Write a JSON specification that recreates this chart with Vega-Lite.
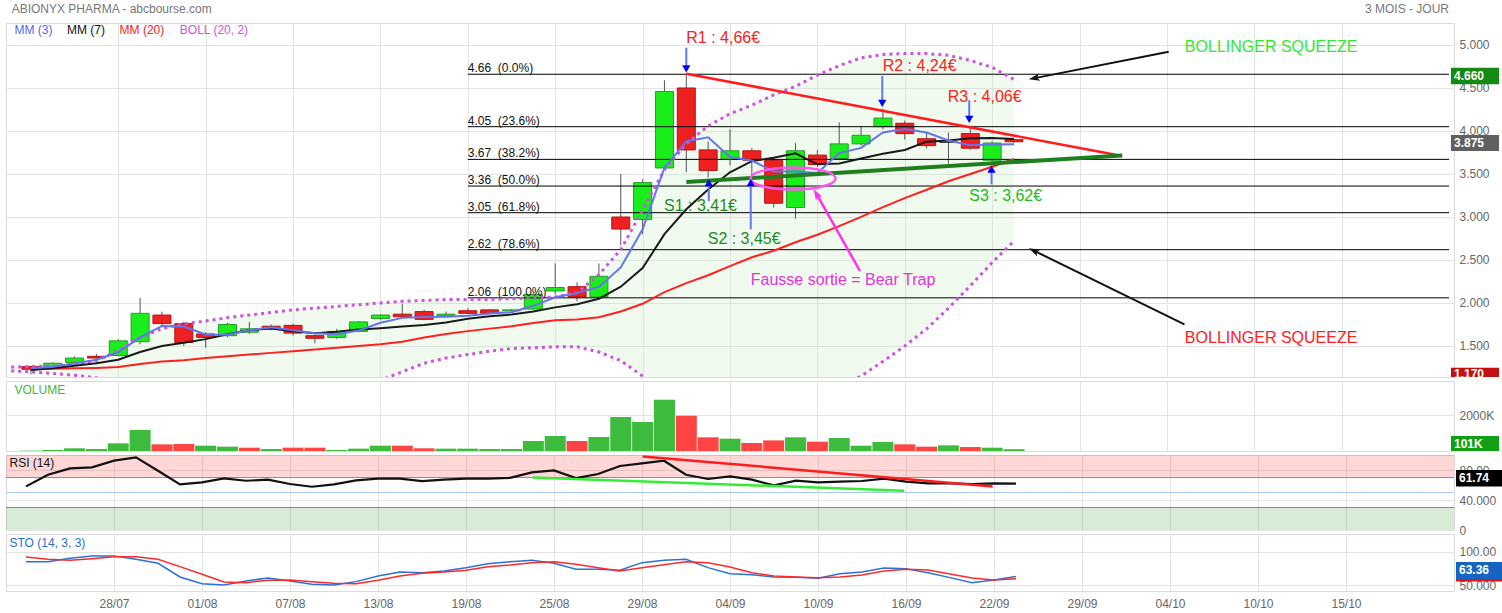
{
"$schema":"https://vega.github.io/schema/vega-lite/v6.json",
"padding":{"left":5,"top":2,"right":0,"bottom":0},
"background":"#ffffff",
"spacing":4,
"bounds":"flush",
"config":{"font":"Liberation Sans","view":{"stroke":"#dadada"},"axis":{"gridColor":"#e3e3e3","labelColor":"#666666","labelFontSize":12,"labelFont":"Liberation Sans","domain":false,"ticks":false,"tickSize":0}},
"datasets":{
"candles":[
{"i":0,"o":1.26,"h":1.27,"l":1.17,"c":1.23,"d":"down","vol":20000,"vd":"up","mm3":1.24,"mm7":1.22,"mm20":1.23,"rsi":58.2,"k":85.5,"dk":92.5},
{"i":1,"o":1.26,"h":1.31,"l":1.24,"c":1.30,"d":"up","vol":55000,"vd":"up","mm3":1.26,"mm7":1.24,"mm20":1.235,"rsi":73.7,"k":85.5,"dk":89},
{"i":2,"o":1.31,"h":1.38,"l":1.29,"c":1.36,"d":"up","vol":150000,"vd":"up","mm3":1.297,"mm7":1.27,"mm20":1.24,"rsi":82.2,"k":90.5,"dk":87.5},
{"i":3,"o":1.38,"h":1.41,"l":1.35,"c":1.36,"d":"down","vol":110000,"vd":"up","mm3":1.34,"mm7":1.30,"mm20":1.245,"rsi":83.5,"k":94,"dk":90},
{"i":4,"o":1.39,"h":1.58,"l":1.38,"c":1.56,"d":"up","vol":425000,"vd":"up","mm3":1.427,"mm7":1.34,"mm20":1.255,"rsi":92.4,"k":94,"dk":93},
{"i":5,"o":1.55,"h":2.06,"l":1.52,"c":1.88,"d":"up","vol":1170000,"vd":"up","mm3":1.60,"mm7":1.43,"mm20":1.29,"rsi":96.8,"k":89,"dk":93},
{"i":6,"o":1.86,"h":1.90,"l":1.74,"c":1.76,"d":"down","vol":370000,"vd":"down","mm3":1.733,"mm7":1.50,"mm20":1.32,"rsi":79,"k":83,"dk":89},
{"i":7,"o":1.76,"h":1.78,"l":1.50,"c":1.54,"d":"down","vol":390000,"vd":"down","mm3":1.727,"mm7":1.537,"mm20":1.335,"rsi":60.8,"k":62.5,"dk":78},
{"i":8,"o":1.64,"h":1.66,"l":1.48,"c":1.60,"d":"down","vol":295000,"vd":"up","mm3":1.633,"mm7":1.58,"mm20":1.36,"rsi":63.5,"k":52.5,"dk":66.5},
{"i":9,"o":1.62,"h":1.77,"l":1.60,"c":1.75,"d":"up","vol":240000,"vd":"up","mm3":1.63,"mm7":1.636,"mm20":1.38,"rsi":68.8,"k":50.5,"dk":55},
{"i":10,"o":1.66,"h":1.78,"l":1.64,"c":1.70,"d":"up","vol":185000,"vd":"down","mm3":1.683,"mm7":1.684,"mm20":1.40,"rsi":65.7,"k":56.5,"dk":54},
{"i":11,"o":1.73,"h":1.75,"l":1.69,"c":1.70,"d":"down","vol":110000,"vd":"up","mm3":1.717,"mm7":1.704,"mm20":1.42,"rsi":67.1,"k":61,"dk":57.5},
{"i":12,"o":1.74,"h":1.76,"l":1.62,"c":1.65,"d":"down","vol":185000,"vd":"down","mm3":1.683,"mm7":1.671,"mm20":1.44,"rsi":61.3,"k":56.5,"dk":58},
{"i":13,"o":1.62,"h":1.63,"l":1.53,"c":1.59,"d":"down","vol":185000,"vd":"down","mm3":1.647,"mm7":1.647,"mm20":1.46,"rsi":57.7,"k":51.5,"dk":55.5},
{"i":14,"o":1.60,"h":1.70,"l":1.58,"c":1.67,"d":"up","vol":55000,"vd":"up","mm3":1.637,"mm7":1.666,"mm20":1.48,"rsi":60.8,"k":50.5,"dk":53},
{"i":15,"o":1.67,"h":1.79,"l":1.66,"c":1.78,"d":"up","vol":130000,"vd":"up","mm3":1.68,"mm7":1.691,"mm20":1.50,"rsi":66.1,"k":55.5,"dk":52.5},
{"i":16,"o":1.82,"h":1.87,"l":1.80,"c":1.86,"d":"up","vol":295000,"vd":"up","mm3":1.77,"mm7":1.707,"mm20":1.52,"rsi":68.4,"k":64,"dk":57.5},
{"i":17,"o":1.87,"h":1.99,"l":1.83,"c":1.84,"d":"down","vol":295000,"vd":"down","mm3":1.827,"mm7":1.727,"mm20":1.55,"rsi":68.4,"k":70,"dk":64},
{"i":18,"o":1.90,"h":1.92,"l":1.80,"c":1.81,"d":"down","vol":150000,"vd":"down","mm3":1.837,"mm7":1.743,"mm20":1.60,"rsi":65.3,"k":69,"dk":68},
{"i":19,"o":1.85,"h":1.90,"l":1.84,"c":1.87,"d":"up","vol":130000,"vd":"up","mm3":1.84,"mm7":1.774,"mm20":1.64,"rsi":67.1,"k":71.5,"dk":70},
{"i":20,"o":1.91,"h":1.94,"l":1.87,"c":1.88,"d":"down","vol":130000,"vd":"up","mm3":1.853,"mm7":1.816,"mm20":1.673,"rsi":68.4,"k":76.5,"dk":72.5},
{"i":21,"o":1.92,"h":1.93,"l":1.87,"c":1.88,"d":"down","vol":110000,"vd":"up","mm3":1.877,"mm7":1.846,"mm20":1.702,"rsi":68.5,"k":82.5,"dk":78},
{"i":22,"o":1.91,"h":1.93,"l":1.90,"c":1.92,"d":"up","vol":110000,"vd":"up","mm3":1.893,"mm7":1.866,"mm20":1.73,"rsi":69.5,"k":85.5,"dk":80.5},
{"i":23,"o":1.93,"h":2.12,"l":1.92,"c":2.10,"d":"up","vol":555000,"vd":"up","mm3":1.967,"mm7":1.90,"mm20":1.767,"rsi":76.8,"k":87.5,"dk":84},
{"i":24,"o":2.14,"h":2.46,"l":2.10,"c":2.18,"d":"up","vol":835000,"vd":"up","mm3":2.067,"mm7":1.949,"mm20":1.798,"rsi":79.5,"k":83,"dk":85.5},
{"i":25,"o":2.19,"h":2.24,"l":2.02,"c":2.07,"d":"down","vol":555000,"vd":"down","mm3":2.117,"mm7":1.986,"mm20":1.808,"rsi":69.3,"k":74,"dk":81.5},
{"i":26,"o":2.07,"h":2.46,"l":2.05,"c":2.31,"d":"up","vol":780000,"vd":"up","mm3":2.187,"mm7":2.049,"mm20":1.835,"rsi":74.7,"k":74,"dk":76.5},
{"i":27,"o":3.00,"h":3.50,"l":2.67,"c":2.86,"d":"down","vol":1890000,"vd":"up","mm3":2.413,"mm7":2.189,"mm20":1.901,"rsi":85.3,"k":72.5,"dk":71.5},
{"i":28,"o":2.97,"h":3.44,"l":2.80,"c":3.40,"d":"up","vol":1610000,"vd":"up","mm3":2.857,"mm7":2.406,"mm20":1.991,"rsi":88.8,"k":84,"dk":76.5},
{"i":29,"o":3.57,"h":4.59,"l":3.55,"c":4.46,"d":"up","vol":2850000,"vd":"up","mm3":3.573,"mm7":2.80,"mm20":2.127,"rsi":92.4,"k":87.5,"dk":81},
{"i":30,"o":4.50,"h":4.66,"l":3.52,"c":3.78,"d":"down","vol":1960000,"vd":"down","mm3":3.88,"mm7":3.09,"mm20":2.231,"rsi":73.7,"k":89,"dk":85.5},
{"i":31,"o":3.78,"h":3.88,"l":3.46,"c":3.54,"d":"down","vol":760000,"vd":"down","mm3":3.927,"mm7":3.32,"mm20":2.323,"rsi":68,"k":76.5,"dk":84},
{"i":32,"o":3.67,"h":4.02,"l":3.60,"c":3.77,"d":"up","vol":685000,"vd":"up","mm3":3.697,"mm7":3.52,"mm20":2.429,"rsi":71.5,"k":67.5,"dk":77.5},
{"i":33,"o":3.77,"h":3.80,"l":3.45,"c":3.66,"d":"down","vol":445000,"vd":"down","mm3":3.657,"mm7":3.65,"mm20":2.532,"rsi":67.1,"k":66,"dk":69},
{"i":34,"o":3.66,"h":3.70,"l":3.11,"c":3.16,"d":"down","vol":590000,"vd":"down","mm3":3.53,"mm7":3.69,"mm20":2.607,"rsi":59.5,"k":62.5,"dk":64},
{"i":35,"o":3.11,"h":3.86,"l":2.98,"c":3.77,"d":"up","vol":760000,"vd":"up","mm3":3.53,"mm7":3.74,"mm20":2.706,"rsi":65.7,"k":62,"dk":62.5},
{"i":36,"o":3.72,"h":3.78,"l":3.58,"c":3.61,"d":"down","vol":520000,"vd":"down","mm3":3.513,"mm7":3.613,"mm20":2.794,"rsi":63.5,"k":60.5,"dk":61.5},
{"i":37,"o":3.68,"h":4.10,"l":3.66,"c":3.85,"d":"up","vol":720000,"vd":"up","mm3":3.743,"mm7":3.623,"mm20":2.894,"rsi":64.4,"k":67.5,"dk":62.5},
{"i":38,"o":3.85,"h":4.06,"l":3.83,"c":3.95,"d":"up","vol":295000,"vd":"up","mm3":3.803,"mm7":3.681,"mm20":3.001,"rsi":65.3,"k":70,"dk":65.5},
{"i":39,"o":4.05,"h":4.26,"l":4.02,"c":4.15,"d":"up","vol":500000,"vd":"up","mm3":3.983,"mm7":3.736,"mm20":3.115,"rsi":68.4,"k":76,"dk":71.5},
{"i":40,"o":4.09,"h":4.12,"l":3.90,"c":3.97,"d":"down","vol":370000,"vd":"down","mm3":4.023,"mm7":3.78,"mm20":3.22,"rsi":64.4,"k":75,"dk":74},
{"i":41,"o":3.91,"h":3.98,"l":3.80,"c":3.83,"d":"down","vol":240000,"vd":"down","mm3":3.983,"mm7":3.876,"mm20":3.317,"rsi":62.1,"k":69,"dk":73},
{"i":42,"o":3.87,"h":3.98,"l":3.62,"c":3.87,"d":"flat","vol":315000,"vd":"up","mm3":3.89,"mm7":3.89,"mm20":3.415,"rsi":62.1,"k":61.5,"dk":67},
{"i":43,"o":3.97,"h":4.06,"l":3.78,"c":3.80,"d":"down","vol":220000,"vd":"down","mm3":3.833,"mm7":3.917,"mm20":3.50,"rsi":61.3,"k":54,"dk":61},
{"i":44,"o":3.66,"h":3.88,"l":3.61,"c":3.86,"d":"up","vol":185000,"vd":"up","mm3":3.843,"mm7":3.919,"mm20":3.584,"rsi":62.1,"k":58,"dk":58},
{"i":45,"o":3.90,"h":3.91,"l":3.86,"c":3.875,"d":"down","vol":101000,"vd":"up","mm3":3.845,"mm7":3.908,"mm20":3.674,"rsi":61.74,"k":63.36,"dk":60}
],
"boll":[
{"i":-0.9,"up":1.255,"lo":1.21},{"i":0,"up":1.26,"lo":1.20},{"i":1,"up":1.27,"lo":1.18},{"i":2,"up":1.29,"lo":1.16},{"i":3,"up":1.33,"lo":1.13},{"i":4,"up":1.45,"lo":1.08},{"i":5,"up":1.60,"lo":0.98},{"i":6,"up":1.70,"lo":0.93},{"i":7,"up":1.76,"lo":0.91},{"i":8,"up":1.79,"lo":0.92},{"i":9,"up":1.83,"lo":0.93},{"i":10,"up":1.86,"lo":0.95},{"i":11,"up":1.89,"lo":0.96},{"i":12,"up":1.92,"lo":0.98},{"i":13,"up":1.94,"lo":1.00},{"i":14,"up":1.96,"lo":1.02},{"i":15,"up":1.98,"lo":1.05},{"i":16,"up":2.00,"lo":1.10},{"i":17,"up":2.02,"lo":1.20},{"i":18,"up":2.03,"lo":1.30},{"i":19,"up":2.04,"lo":1.36},{"i":20,"up":2.04,"lo":1.40},{"i":21,"up":2.04,"lo":1.44},{"i":22,"up":2.05,"lo":1.47},{"i":23,"up":2.06,"lo":1.48},{"i":24,"up":2.07,"lo":1.49},{"i":25,"up":2.12,"lo":1.49},{"i":26,"up":2.33,"lo":1.43},{"i":27,"up":2.62,"lo":1.33},{"i":28,"up":3.08,"lo":1.15},{"i":29,"up":3.55,"lo":0.98},{"i":30,"up":3.85,"lo":0.85},{"i":31,"up":4.06,"lo":0.80},{"i":32,"up":4.20,"lo":0.78},{"i":33,"up":4.30,"lo":0.76},{"i":34,"up":4.42,"lo":0.78},{"i":35,"up":4.52,"lo":0.85},{"i":36,"up":4.65,"lo":0.95},{"i":37,"up":4.76,"lo":1.03},{"i":38,"up":4.85,"lo":1.15},{"i":39,"up":4.89,"lo":1.32},{"i":40,"up":4.90,"lo":1.50},{"i":41,"up":4.90,"lo":1.70},{"i":42,"up":4.88,"lo":1.94},{"i":43,"up":4.82,"lo":2.20},{"i":44,"up":4.74,"lo":2.47},{"i":45,"up":4.60,"lo":2.72}
],
"fib":[
{"i":20,"i2":64.91,"p":4.66,"t":"4.66\u00a0\u00a0(0.0%)"},
{"i":20,"i2":64.91,"p":4.05,"t":"4.05\u00a0\u00a0(23.6%)"},
{"i":20,"i2":64.91,"p":3.67,"t":"3.67\u00a0\u00a0(38.2%)"},
{"i":20,"i2":64.91,"p":3.36,"t":"3.36\u00a0\u00a0(50.0%)"},
{"i":20,"i2":64.91,"p":3.05,"t":"3.05\u00a0\u00a0(61.8%)"},
{"i":20,"i2":64.91,"p":2.62,"t":"2.62\u00a0\u00a0(78.6%)"},
{"i":20,"i2":64.91,"p":2.06,"t":"2.06\u00a0\u00a0(100.0%)"}
],
"trend":[
{"i":30.0,"i2":49.95,"p":4.666,"p2":3.709,"k":"r"},
{"i":30.0,"i2":49.95,"p":3.407,"p2":3.716,"k":"g"}
],
"ell":[{"i":34.886,"p":3.448}],
"barrow":[
{"i":30.0,"p1":4.969,"p2":4.722,"h":"dn"},
{"i":38.97,"p1":4.6395,"p2":4.320,"h":"dn"},
{"i":42.95,"p1":4.357,"p2":4.134,"h":"dn"},
{"i":31.03,"p1":3.186,"p2":3.401,"h":"up"},
{"i":32.95,"p1":2.857,"p2":3.401,"h":"up"},
{"i":43.97,"p1":3.380,"p2":3.557,"h":"up"}
],
"karrow":[
{"i":52.08,"i2":45.95,"p":4.922,"p2":4.615,"k":"b"},
{"i":52.80,"i2":45.93,"p":1.752,"p2":2.606,"k":"b"},
{"i":37.95,"i2":35.97,"p":2.372,"p2":3.262,"k":"m"}
],
"heads":[
{"i":45.95,"p":4.615,"k":"b1"},
{"i":45.93,"p":2.606,"k":"b2"},
{"i":35.97,"p":3.262,"k":"m"}
],
"ann":[
{"i":30.0,"p":5.085,"t":"R1 : 4,66€","k":"r","g":"a"},
{"i":38.99,"p":4.756,"t":"R2 : 4,24€","k":"r","g":"a"},
{"i":41.97,"p":4.395,"t":"R3 : 4,06€","k":"r","g":"a"},
{"i":28.98,"p":3.128,"t":"S1 : 3,41€","k":"g","g":"a"},
{"i":30.98,"p":2.744,"t":"S2 : 3,45€","k":"g","g":"a"},
{"i":42.95,"p":3.244,"t":"S3 : 3,62€","k":"g2","g":"a"},
{"i":32.95,"p":2.267,"t":"Fausse sortie = Bear Trap","k":"m","g":"a"},
{"i":52.82,"p":4.977,"t":"BOLLINGER SQUEEZE","k":"bg","g":"a"},
{"i":52.82,"p":1.593,"t":"BOLLINGER SQUEEZE","k":"br","g":"a"}
],
"leg":[
{"i":-0.75,"p":5.174,"t":"MM (3)","k":"a"},
{"i":1.65,"p":5.174,"t":"MM (7)","k":"b"},
{"i":4.06,"p":5.174,"t":"MM (20)","k":"c"},
{"i":6.82,"p":5.174,"t":"BOLL (20, 2)","k":"d"}
],
"ttl":[
{"i":-0.88,"p":5.415,"t":"ABIONYX PHARMA - abcbourse.com","a":"l"},
{"i":64.91,"p":5.415,"t":"3 MOIS - JOUR","a":"r"}
],
"ptag":[
{"i":65.0,"i2":67.2,"p":4.736,"p2":4.543,"pt":4.64,"k":"g","t":"4.660"},
{"i":65.0,"i2":67.2,"p":3.953,"p2":3.767,"pt":3.86,"k":"n","t":"3.875"},
{"i":65.0,"i2":67.2,"p":1.248,"p2":1.1395,"pt":1.17,"k":"r","t":"1.170"}
],
"vlab":[{"i":-0.75,"v":3390000,"t":"VOLUME"}],
"vtag":[{"i":65.0,"i2":67.2,"v":833571,"v2":0,"vt":389000,"t":"101K"}],
"rband":[
{"i":-0.909,"i2":64.91,"y":70,"y2":100,"k":"hi"},
{"i":-0.909,"i2":64.91,"y":0,"y2":30,"k":"lo"}
],
"rref":[
{"i":-0.909,"i2":64.91,"y":70,"k":"r"},
{"i":-0.909,"i2":64.91,"y":50,"k":"b"},
{"i":-0.909,"i2":64.91,"y":30,"k":"g"}
],
"rtrend":[
{"i":28.03,"i2":43.94,"y":98.1,"y2":58.1,"k":"r"},
{"i":23.03,"i2":39.92,"y":70.1,"y2":52.4,"k":"g"}
],
"rlab":[{"i":-0.75,"y":88.8,"t":"RSI (14)"}],
"rtag":[{"i":65.0,"i2":67.2,"y":80,"y2":58.1,"yt":69,"t":"61.74"}],
"slab":[{"i":-0.75,"y":113,"t":"STO (14, 3, 3)"}],
"stag":[
{"i":65.0,"i2":67.2,"y":85,"y2":59.5,"yt":72.25,"t":"63.36","k":"b"},
{"i":65.0,"i2":67.2,"y":59.5,"y2":55.7,"yt":57.6,"t":"","k":"r"}
]
},
"vconcat":[
{
"width":1448,"height":354,
"encoding":{"x":{"field":"i","type":"quantitative","scale":{"domain":[-0.909,64.91],"nice":false,"zero":false},"axis":{"values":[4,8,12,16,20,24,28,32,36,40,44,48,52,56,60],"labels":false,"grid":true,"title":null}}},
"resolve":{"scale":{"color":"independent","fill":"independent","stroke":"independent","shape":"independent"}},
"layer":[
{"data":{"name":"boll"},"mark":{"type":"area","color":"#bfeab5","opacity":0.22,"clip":true},
 "encoding":{"y":{"field":"up","type":"quantitative","scale":{"domain":[1.1395,5.2558],"nice":false,"zero":false},"axis":{"orient":"right","values":[1.5,2,2.5,3,3.5,4,4.5,5],"format":".3f","grid":true,"title":null,"labelPadding":5}},"y2":{"field":"lo"}}},
{"data":{"name":"candles"},"mark":{"type":"rule","color":"#555555","strokeWidth":1,"clip":true},
 "encoding":{"y":{"field":"l","type":"quantitative","scale":{"domain":[1.1395,5.2558],"nice":false,"zero":false},"axis":{"orient":"right","values":[1.5,2,2.5,3,3.5,4,4.5,5],"format":".3f","grid":true,"title":null,"labelPadding":5}},"y2":{"field":"h"}}},
{"data":{"name":"candles"},"mark":{"type":"bar","width":18,"strokeWidth":1,"clip":true},
 "encoding":{"y":{"field":"o","type":"quantitative","scale":{"domain":[1.1395,5.2558],"nice":false,"zero":false},"axis":{"orient":"right","values":[1.5,2,2.5,3,3.5,4,4.5,5],"format":".3f","grid":true,"title":null,"labelPadding":5}},"y2":{"field":"c"},
  "fill":{"field":"d","type":"nominal","scale":{"domain":["up","down","flat"],"range":["#1aee1a","#ee2020","#333333"]},"legend":null},
  "stroke":{"field":"d","type":"nominal","scale":{"domain":["up","down","flat"],"range":["#2a9a2a","#b01515","#333333"]},"legend":null}}},
{"data":{"name":"fib"},"mark":{"type":"rule","color":"#000000","strokeWidth":1},
 "encoding":{"x2":{"field":"i2"},"y":{"field":"p","type":"quantitative","scale":{"domain":[1.1395,5.2558],"nice":false,"zero":false},"axis":{"orient":"right","values":[1.5,2,2.5,3,3.5,4,4.5,5],"format":".3f","grid":true,"title":null,"labelPadding":5}}}},
{"data":{"name":"fib"},"mark":{"type":"text","align":"left","baseline":"alphabetic","dy":-2,"fontSize":12,"color":"#111111"},
 "encoding":{"y":{"field":"p","type":"quantitative","scale":{"domain":[1.1395,5.2558],"nice":false,"zero":false},"axis":{"orient":"right","values":[1.5,2,2.5,3,3.5,4,4.5,5],"format":".3f","grid":true,"title":null,"labelPadding":5}},"text":{"field":"t"}}},
{"data":{"name":"boll"},"mark":{"type":"line","color":"#cc55dd","strokeWidth":3,"strokeDash":[3,4],"clip":true},
 "encoding":{"y":{"field":"up","type":"quantitative","scale":{"domain":[1.1395,5.2558],"nice":false,"zero":false},"axis":{"orient":"right","values":[1.5,2,2.5,3,3.5,4,4.5,5],"format":".3f","grid":true,"title":null,"labelPadding":5}}}},
{"data":{"name":"boll"},"mark":{"type":"line","color":"#cc55dd","strokeWidth":3,"strokeDash":[3,4],"clip":true},
 "encoding":{"y":{"field":"lo","type":"quantitative","scale":{"domain":[1.1395,5.2558],"nice":false,"zero":false},"axis":{"orient":"right","values":[1.5,2,2.5,3,3.5,4,4.5,5],"format":".3f","grid":true,"title":null,"labelPadding":5}}}},
{"data":{"name":"candles"},"mark":{"type":"line","color":"#ff2020","strokeWidth":2,"clip":true},
 "encoding":{"y":{"field":"mm20","type":"quantitative","scale":{"domain":[1.1395,5.2558],"nice":false,"zero":false},"axis":{"orient":"right","values":[1.5,2,2.5,3,3.5,4,4.5,5],"format":".3f","grid":true,"title":null,"labelPadding":5}}}},
{"data":{"name":"candles"},"mark":{"type":"line","color":"#1a1a1a","strokeWidth":2,"clip":true},
 "encoding":{"y":{"field":"mm7","type":"quantitative","scale":{"domain":[1.1395,5.2558],"nice":false,"zero":false},"axis":{"orient":"right","values":[1.5,2,2.5,3,3.5,4,4.5,5],"format":".3f","grid":true,"title":null,"labelPadding":5}}}},
{"data":{"name":"candles"},"mark":{"type":"line","color":"#6474f0","strokeWidth":2,"clip":true},
 "encoding":{"y":{"field":"mm3","type":"quantitative","scale":{"domain":[1.1395,5.2558],"nice":false,"zero":false},"axis":{"orient":"right","values":[1.5,2,2.5,3,3.5,4,4.5,5],"format":".3f","grid":true,"title":null,"labelPadding":5}}}},
{"data":{"name":"trend"},"transform":[{"filter":"datum.k=='r'"}],"mark":{"type":"rule","color":"#ff1c1c","strokeWidth":2.5},
 "encoding":{"x2":{"field":"i2"},"y":{"field":"p","type":"quantitative","scale":{"domain":[1.1395,5.2558],"nice":false,"zero":false},"axis":{"orient":"right","values":[1.5,2,2.5,3,3.5,4,4.5,5],"format":".3f","grid":true,"title":null,"labelPadding":5}},"y2":{"field":"p2"}}},
{"data":{"name":"trend"},"transform":[{"filter":"datum.k=='g'"}],"mark":{"type":"rule","color":"#1f7f1f","strokeWidth":4},
 "encoding":{"x2":{"field":"i2"},"y":{"field":"p","type":"quantitative","scale":{"domain":[1.1395,5.2558],"nice":false,"zero":false},"axis":{"orient":"right","values":[1.5,2,2.5,3,3.5,4,4.5,5],"format":".3f","grid":true,"title":null,"labelPadding":5}},"y2":{"field":"p2"}}},
{"data":{"name":"ell"},"mark":{"type":"point","shape":"M-1,0C-1,-0.1436,-0.5523,-0.26,0,-0.26C0.5523,-0.26,1,-0.1436,1,0C1,0.1436,0.5523,0.26,0,0.26C-0.5523,0.26,-1,0.1436,-1,0Z","size":7225,"filled":false,"color":"#ff55ee","strokeWidth":2.5,"opacity":1},
 "encoding":{"y":{"field":"p","type":"quantitative","scale":{"domain":[1.1395,5.2558],"nice":false,"zero":false},"axis":{"orient":"right","values":[1.5,2,2.5,3,3.5,4,4.5,5],"format":".3f","grid":true,"title":null,"labelPadding":5}}}},
{"data":{"name":"barrow"},"mark":{"type":"rule","color":"#6677ee","strokeWidth":2},
 "encoding":{"y":{"field":"p1","type":"quantitative","scale":{"domain":[1.1395,5.2558],"nice":false,"zero":false},"axis":{"orient":"right","values":[1.5,2,2.5,3,3.5,4,4.5,5],"format":".3f","grid":true,"title":null,"labelPadding":5}},"y2":{"field":"p2"}}},
{"data":{"name":"barrow"},"mark":{"type":"point","filled":true,"color":"#0000ff","size":70,"opacity":1},
 "encoding":{"y":{"field":"p2","type":"quantitative","scale":{"domain":[1.1395,5.2558],"nice":false,"zero":false},"axis":{"orient":"right","values":[1.5,2,2.5,3,3.5,4,4.5,5],"format":".3f","grid":true,"title":null,"labelPadding":5}},
  "shape":{"field":"h","type":"nominal","scale":{"domain":["dn","up"],"range":["triangle-down","triangle-up"]},"legend":null}}},
{"data":{"name":"karrow"},"transform":[{"filter":"datum.k=='b'"}],"mark":{"type":"rule","color":"#111111","strokeWidth":2},
 "encoding":{"x2":{"field":"i2"},"y":{"field":"p","type":"quantitative","scale":{"domain":[1.1395,5.2558],"nice":false,"zero":false},"axis":{"orient":"right","values":[1.5,2,2.5,3,3.5,4,4.5,5],"format":".3f","grid":true,"title":null,"labelPadding":5}},"y2":{"field":"p2"}}},
{"data":{"name":"karrow"},"transform":[{"filter":"datum.k=='m'"}],"mark":{"type":"rule","color":"#ff33ee","strokeWidth":2.5},
 "encoding":{"x2":{"field":"i2"},"y":{"field":"p","type":"quantitative","scale":{"domain":[1.1395,5.2558],"nice":false,"zero":false},"axis":{"orient":"right","values":[1.5,2,2.5,3,3.5,4,4.5,5],"format":".3f","grid":true,"title":null,"labelPadding":5}},"y2":{"field":"p2"}}},
{"data":{"name":"heads"},"transform":[{"filter":"datum.k=='b1'"}],"mark":{"type":"point","shape":"M0,-1L0.6,0.8L0,0.4L-0.6,0.8Z","size":150,"filled":true,"color":"#111111","opacity":1,"angle":259},
 "encoding":{"y":{"field":"p","type":"quantitative","scale":{"domain":[1.1395,5.2558],"nice":false,"zero":false},"axis":{"orient":"right","values":[1.5,2,2.5,3,3.5,4,4.5,5],"format":".3f","grid":true,"title":null,"labelPadding":5}}}},
{"data":{"name":"heads"},"transform":[{"filter":"datum.k=='b2'"}],"mark":{"type":"point","shape":"M0,-1L0.6,0.8L0,0.4L-0.6,0.8Z","size":150,"filled":true,"color":"#111111","opacity":1,"angle":296},
 "encoding":{"y":{"field":"p","type":"quantitative","scale":{"domain":[1.1395,5.2558],"nice":false,"zero":false},"axis":{"orient":"right","values":[1.5,2,2.5,3,3.5,4,4.5,5],"format":".3f","grid":true,"title":null,"labelPadding":5}}}},
{"data":{"name":"heads"},"transform":[{"filter":"datum.k=='m'"}],"mark":{"type":"point","shape":"M0,-1L0.6,0.8L0,0.4L-0.6,0.8Z","size":150,"filled":true,"color":"#ff33ee","opacity":1,"angle":330},
 "encoding":{"y":{"field":"p","type":"quantitative","scale":{"domain":[1.1395,5.2558],"nice":false,"zero":false},"axis":{"orient":"right","values":[1.5,2,2.5,3,3.5,4,4.5,5],"format":".3f","grid":true,"title":null,"labelPadding":5}}}},
{"data":{"name":"ann"},"mark":{"type":"text","align":"left","baseline":"middle","fontSize":16},
 "encoding":{"y":{"field":"p","type":"quantitative","scale":{"domain":[1.1395,5.2558],"nice":false,"zero":false},"axis":{"orient":"right","values":[1.5,2,2.5,3,3.5,4,4.5,5],"format":".3f","grid":true,"title":null,"labelPadding":5}},"text":{"field":"t"},
  "color":{"field":"k","type":"nominal","scale":{"domain":["r","g","g2","m","bg","br"],"range":["#ff2020","#1e8a1e","#22bb22","#e632d9","#33e833","#ff2020"]},"legend":null}}},
{"data":{"name":"leg"},"mark":{"type":"text","align":"left","baseline":"middle","fontSize":12},
 "encoding":{"y":{"field":"p","type":"quantitative","scale":{"domain":[1.1395,5.2558],"nice":false,"zero":false},"axis":{"orient":"right","values":[1.5,2,2.5,3,3.5,4,4.5,5],"format":".3f","grid":true,"title":null,"labelPadding":5}},"text":{"field":"t"},
  "color":{"field":"k","type":"nominal","scale":{"domain":["a","b","c","d"],"range":["#5566ee","#111111","#ff2020","#cc55dd"]},"legend":null}}},
{"data":{"name":"ttl"},"transform":[{"filter":"datum.a=='l'"}],"mark":{"type":"text","align":"left","baseline":"middle","fontSize":12,"color":"#777777"},
 "encoding":{"y":{"field":"p","type":"quantitative","scale":{"domain":[1.1395,5.2558],"nice":false,"zero":false},"axis":{"orient":"right","values":[1.5,2,2.5,3,3.5,4,4.5,5],"format":".3f","grid":true,"title":null,"labelPadding":5}},"text":{"field":"t"}}},
{"data":{"name":"ttl"},"transform":[{"filter":"datum.a=='r'"}],"mark":{"type":"text","align":"right","baseline":"middle","fontSize":12,"color":"#777777"},
 "encoding":{"y":{"field":"p","type":"quantitative","scale":{"domain":[1.1395,5.2558],"nice":false,"zero":false},"axis":{"orient":"right","values":[1.5,2,2.5,3,3.5,4,4.5,5],"format":".3f","grid":true,"title":null,"labelPadding":5}},"text":{"field":"t"}}},
{"data":{"name":"ptag"},"mark":{"type":"rect"},
 "encoding":{"x2":{"field":"i2"},"y":{"field":"p","type":"quantitative","scale":{"domain":[1.1395,5.2558],"nice":false,"zero":false},"axis":{"orient":"right","values":[1.5,2,2.5,3,3.5,4,4.5,5],"format":".3f","grid":true,"title":null,"labelPadding":5}},"y2":{"field":"p2"},
  "color":{"field":"k","type":"nominal","scale":{"domain":["g","n","r"],"range":["#148a14","#606060","#c41010"]},"legend":null}}},
{"data":{"name":"ptag"},"mark":{"type":"text","align":"left","baseline":"middle","dx":3,"fontSize":12,"fontWeight":"bold","color":"#ffffff"},
 "encoding":{"y":{"field":"pt","type":"quantitative","scale":{"domain":[1.1395,5.2558],"nice":false,"zero":false},"axis":{"orient":"right","values":[1.5,2,2.5,3,3.5,4,4.5,5],"format":".3f","grid":true,"title":null,"labelPadding":5}},"text":{"field":"t"}}}
]
},
{
"width":1448,"height":70,
"encoding":{"x":{"field":"i","type":"quantitative","scale":{"domain":[-0.909,64.91],"nice":false,"zero":false},"axis":{"values":[4,8,12,16,20,24,28,32,36,40,44,48,52,56,60],"labels":false,"grid":true,"title":null}}},
"resolve":{"scale":{"color":"independent"}},
"layer":[
{"data":{"name":"candles"},"mark":{"type":"bar","width":21},
 "encoding":{"y":{"field":"vol","type":"quantitative","scale":{"domain":[0,3890000],"nice":false,"zero":false},"axis":{"orient":"right","values":[2000000],"labelExpr":"'2000K'","grid":true,"title":null,"labelPadding":5}},
  "color":{"field":"vd","type":"nominal","scale":{"domain":["up","down"],"range":["#3dbb3d","#ff4444"]},"legend":null}}},
{"data":{"name":"vlab"},"mark":{"type":"text","align":"left","baseline":"middle","fontSize":12,"color":"#3db83d"},
 "encoding":{"y":{"field":"v","type":"quantitative","scale":{"domain":[0,3890000],"nice":false,"zero":false},"axis":{"orient":"right","values":[2000000],"labelExpr":"'2000K'","grid":true,"title":null,"labelPadding":5}},"text":{"field":"t"}}},
{"data":{"name":"vtag"},"mark":{"type":"rect","color":"#12a012"},
 "encoding":{"x2":{"field":"i2"},"y":{"field":"v","type":"quantitative","scale":{"domain":[0,3890000],"nice":false,"zero":false},"axis":{"orient":"right","values":[2000000],"labelExpr":"'2000K'","grid":true,"title":null,"labelPadding":5}},"y2":{"field":"v2"}}},
{"data":{"name":"vtag"},"mark":{"type":"text","align":"left","baseline":"middle","dx":3,"fontSize":12,"fontWeight":"bold","color":"#ffffff"},
 "encoding":{"y":{"field":"vt","type":"quantitative","scale":{"domain":[0,3890000],"nice":false,"zero":false},"axis":{"orient":"right","values":[2000000],"labelExpr":"'2000K'","grid":true,"title":null,"labelPadding":5}},"text":{"field":"t"}}}
]
},
{
"width":1448,"height":75,
"encoding":{"x":{"field":"i","type":"quantitative","scale":{"domain":[-0.909,64.91],"nice":false,"zero":false},"axis":{"values":[4,8,12,16,20,24,28,32,36,40,44,48,52,56,60],"labels":false,"grid":true,"title":null}}},
"resolve":{"scale":{"color":"independent"}},
"layer":[
{"data":{"name":"rband"},"mark":{"type":"rect","opacity":0.155},
 "encoding":{"x2":{"field":"i2"},"y":{"field":"y","type":"quantitative","scale":{"domain":[0,100],"nice":false,"zero":false},"axis":{"orient":"right","values":[0,40,80],"labelExpr":"datum.value==80?'80.00':datum.value==40?'40.000':'0'","grid":true,"title":null,"labelPadding":5}},"y2":{"field":"y2"},
  "color":{"field":"k","type":"nominal","scale":{"domain":["hi","lo"],"range":["#ff0000","#008000"]},"legend":null}}},
{"data":{"name":"rref"},"mark":{"type":"rule","strokeWidth":1},
 "encoding":{"x2":{"field":"i2"},"y":{"field":"y","type":"quantitative","scale":{"domain":[0,100],"nice":false,"zero":false},"axis":{"orient":"right","values":[0,40,80],"labelExpr":"datum.value==80?'80.00':datum.value==40?'40.000':'0'","grid":true,"title":null,"labelPadding":5}},
  "color":{"field":"k","type":"nominal","scale":{"domain":["r","b","g"],"range":["#ff6060","#a8c8f0","#55aa55"]},"legend":null}}},
{"data":{"name":"candles"},"mark":{"type":"line","color":"#111111","strokeWidth":2.2},
 "encoding":{"y":{"field":"rsi","type":"quantitative","scale":{"domain":[0,100],"nice":false,"zero":false},"axis":{"orient":"right","values":[0,40,80],"labelExpr":"datum.value==80?'80.00':datum.value==40?'40.000':'0'","grid":true,"title":null,"labelPadding":5}}}},
{"data":{"name":"rtrend"},"mark":{"type":"rule","strokeWidth":2.5},
 "encoding":{"x2":{"field":"i2"},"y":{"field":"y","type":"quantitative","scale":{"domain":[0,100],"nice":false,"zero":false},"axis":{"orient":"right","values":[0,40,80],"labelExpr":"datum.value==80?'80.00':datum.value==40?'40.000':'0'","grid":true,"title":null,"labelPadding":5}},"y2":{"field":"y2"},
  "color":{"field":"k","type":"nominal","scale":{"domain":["r","g"],"range":["#ff1c1c","#33ee33"]},"legend":null}}},
{"data":{"name":"rlab"},"mark":{"type":"text","align":"left","baseline":"middle","fontSize":12,"color":"#111111"},
 "encoding":{"y":{"field":"y","type":"quantitative","scale":{"domain":[0,100],"nice":false,"zero":false},"axis":{"orient":"right","values":[0,40,80],"labelExpr":"datum.value==80?'80.00':datum.value==40?'40.000':'0'","grid":true,"title":null,"labelPadding":5}},"text":{"field":"t"}}},
{"data":{"name":"rtag"},"mark":{"type":"rect","color":"#000000"},
 "encoding":{"x2":{"field":"i2"},"y":{"field":"y","type":"quantitative","scale":{"domain":[0,100],"nice":false,"zero":false},"axis":{"orient":"right","values":[0,40,80],"labelExpr":"datum.value==80?'80.00':datum.value==40?'40.000':'0'","grid":true,"title":null,"labelPadding":5}},"y2":{"field":"y2"}}},
{"data":{"name":"rtag"},"mark":{"type":"text","align":"left","baseline":"middle","dx":3,"fontSize":12,"fontWeight":"bold","color":"#ffffff"},
 "encoding":{"y":{"field":"yt","type":"quantitative","scale":{"domain":[0,100],"nice":false,"zero":false},"axis":{"orient":"right","values":[0,40,80],"labelExpr":"datum.value==80?'80.00':datum.value==40?'40.000':'0'","grid":true,"title":null,"labelPadding":5}},"text":{"field":"t"}}}
]
},
{
"width":1448,"height":57,
"encoding":{"x":{"field":"i","type":"quantitative","scale":{"domain":[-0.909,64.91],"nice":false,"zero":false},"axis":{"values":[4,8,12,16,20,24,28,32,36,40,44,48,52,56,60],"labelExpr":"['28/07','01/08','07/08','13/08','19/08','25/08','29/08','04/09','10/09','16/09','22/09','29/09','04/10','10/10','15/10'][datum.value/4-1]","labelPadding":7,"grid":true,"title":null}}},
"resolve":{"scale":{"color":"independent"}},
"layer":[
{"data":{"name":"candles"},"mark":{"type":"line","color":"#2a72d5","strokeWidth":1.5},
 "encoding":{"y":{"field":"k","type":"quantitative","scale":{"domain":[41.45,127],"nice":false,"zero":false},"axis":{"orient":"right","values":[50,100],"labelExpr":"datum.value==100?'100.00':'50.000'","grid":true,"title":null,"labelPadding":5}}}},
{"data":{"name":"candles"},"mark":{"type":"line","color":"#ff2a2a","strokeWidth":1.5},
 "encoding":{"y":{"field":"dk","type":"quantitative","scale":{"domain":[41.45,127],"nice":false,"zero":false},"axis":{"orient":"right","values":[50,100],"labelExpr":"datum.value==100?'100.00':'50.000'","grid":true,"title":null,"labelPadding":5}}}},
{"data":{"name":"slab"},"mark":{"type":"text","align":"left","baseline":"middle","fontSize":12,"color":"#2a6fd0"},
 "encoding":{"y":{"field":"y","type":"quantitative","scale":{"domain":[41.45,127],"nice":false,"zero":false},"axis":{"orient":"right","values":[50,100],"labelExpr":"datum.value==100?'100.00':'50.000'","grid":true,"title":null,"labelPadding":5}},"text":{"field":"t"}}},
{"data":{"name":"stag"},"mark":{"type":"rect"},
 "encoding":{"x2":{"field":"i2"},"y":{"field":"y","type":"quantitative","scale":{"domain":[41.45,127],"nice":false,"zero":false},"axis":{"orient":"right","values":[50,100],"labelExpr":"datum.value==100?'100.00':'50.000'","grid":true,"title":null,"labelPadding":5}},"y2":{"field":"y2"},
  "color":{"field":"k","type":"nominal","scale":{"domain":["b","r"],"range":["#1565c0","#ee1111"]},"legend":null}}},
{"data":{"name":"stag"},"transform":[{"filter":"datum.k=='b'"}],"mark":{"type":"text","align":"left","baseline":"middle","dx":3,"fontSize":12,"fontWeight":"bold","color":"#ffffff"},
 "encoding":{"y":{"field":"yt","type":"quantitative","scale":{"domain":[41.45,127],"nice":false,"zero":false},"axis":{"orient":"right","values":[50,100],"labelExpr":"datum.value==100?'100.00':'50.000'","grid":true,"title":null,"labelPadding":5}},"text":{"field":"t"}}}
]
}
]
}
